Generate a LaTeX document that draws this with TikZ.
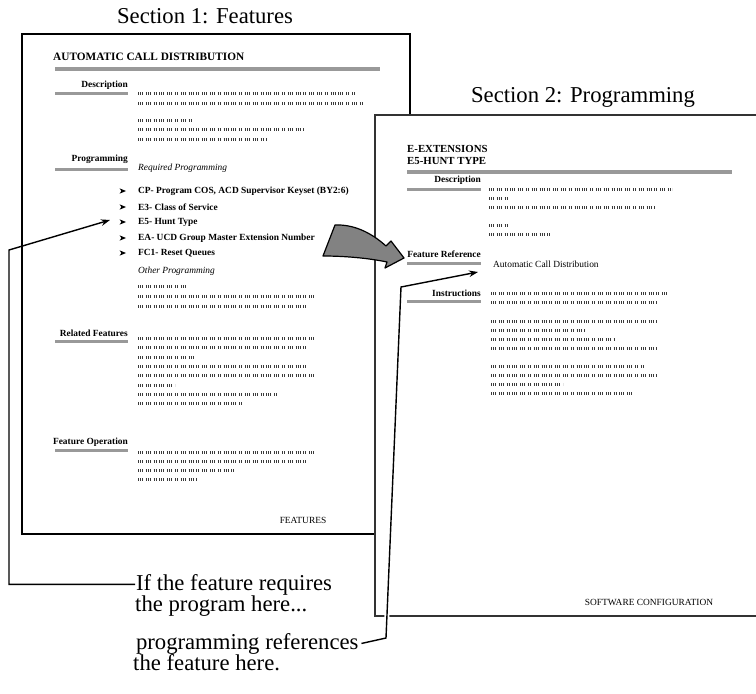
\documentclass[tikz,border=0pt]{standalone}
\usepackage{fontspec}
\setmainfont{Liberation Serif}
\usetikzlibrary{arrows.meta,calc}
\definecolor{barcol}{HTML}{999999}
\definecolor{arrowgray}{HTML}{828282}
\definecolor{tickcol}{HTML}{3A3A3A}
\begin{document}
\begin{tikzpicture}[x=1pt,y=-1pt,
  page/.style={draw=black, line width=1.1pt, fill=white},
  rpage/.style={draw=black!80, line width=1.1pt, fill=white},
  hbar/.style={draw=barcol, line width=3pt},
  tbar/.style={draw=barcol, line width=4pt},
  head/.style={anchor=east, inner sep=0pt, font=\bfseries\fontsize{9.4}{11}\selectfont},
  item/.style={anchor=west, inner sep=0pt, font=\bfseries\fontsize{9.4}{11}\selectfont},
  ital/.style={anchor=west, inner sep=0pt, font=\itshape\fontsize{9.4}{11}\selectfont},
  plain/.style={inner sep=0pt, font=\fontsize{9.4}{11}\selectfont},
  ltitle/.style={anchor=west, inner sep=0pt, align=left, font=\bfseries\fontsize{11.3}{12}\selectfont},
  rtitle/.style={anchor=west, inner sep=0pt, align=left, font=\bfseries\fontsize{10.8}{12}\selectfont},
  big/.style={inner sep=0pt, font=\fontsize{22.7}{22}\selectfont},
  greek/.style={draw=tickcol, line width=3pt, line cap=butt,
    dash pattern=on 0.8pt off 1.2pt on 0.8pt off 1.2pt on 0.8pt off 3pt on 0.8pt off 1.2pt on 0.8pt off 1.2pt on 0.8pt off 3pt on 0.8pt off 1.2pt on 0.8pt off 3pt},
  callout/.style={draw=black, line width=1.4pt, -{Stealth[length=9pt,width=6.5pt]}},
  bigarrow/.style={fill=arrowgray, draw=black, line width=1.2pt, line join=round},
  bulletarrow/.pic={\fill (0,0) -- (-6.5,-2.7) -- (-4.6,0) -- (-6.5,2.7) -- cycle;}
]
\useasboundingbox (0,0) rectangle (756,694);

% ---------- Section titles ----------
\node[big] (s1) at (205,16) {Section 1: Features};
\node[big] (s2) at (583,97) {Section 2: Programming};

% ---------- Left page ----------
\draw[page] (22,34) rectangle (410,534);
\node[ltitle] (acd) at (53,57) {AUTOMATIC CALL DISTRIBUTION};
\draw[tbar] (55,69) -- (380,69);

\node[head] (ldesc) at (128,85) {Description};
\draw[hbar] (55,93) -- (128,93);
\draw[greek] (138,93) -- (355,93);
\draw[greek] (138,103) -- (363,103);
\draw[greek] (138,120) -- (192,120);
\draw[greek] (138,129) -- (305,129);
\draw[greek] (138,139) -- (267,139);

\node[head] (lprog) at (128,159) {Programming};
\draw[hbar] (55,169) -- (128,169);
\node[ital] (reqp) at (138,168) {Required Programming};
\foreach \yy in {191,207,222,238,253} {\pic at (126,\yy) {bulletarrow};}
\node[item] (cp)  at (138,191) {CP- Program COS, ACD Supervisor Keyset (BY2:6)};
\node[item] (e3)  at (138,207) {E3- Class of Service};
\node[item] (e5)  at (138,222) {E5- Hunt Type};
\node[item] (ea)  at (138,238) {EA- UCD Group Master Extension Number};
\node[item] (fc1) at (138,253) {FC1- Reset Queues};
\node[ital] (othp) at (138,271) {Other Programming};
\draw[greek] (138,286) -- (185,286);
\draw[greek] (138,296) -- (315,296);
\draw[greek] (138,306) -- (307,306);

\node[head] (lrel) at (128,333) {Related Features};
\draw[hbar] (55,341) -- (128,341);
\draw[greek] (138,338) -- (315,338);
\draw[greek] (138,347) -- (307,347);
\draw[greek] (138,357) -- (193,357);
\draw[greek] (138,366) -- (307,366);
\draw[greek] (138,375) -- (315,375);
\draw[greek] (138,385) -- (175,385);
\draw[greek] (138,394) -- (278,394);
\draw[greek] (138,403) -- (243,403);

\node[head] (lop) at (128,442) {Feature Operation};
\draw[hbar] (55,450) -- (128,450);
\draw[greek] (138,452) -- (315,452);
\draw[greek] (138,461) -- (307,461);
\draw[greek] (138,470) -- (235,470);
\draw[greek] (138,479) -- (197,479);

\node[plain] (feat) at (303,520) {FEATURES};

% ---------- Right page ----------
\draw[rpage] (375,115) rectangle (762,616);
\node[rtitle] (ext) at (407,155) {E-EXTENSIONS\\E5-HUNT TYPE};
\draw[tbar] (407,172) -- (732,172);

\node[head] (rdesc) at (481,180) {Description};
\draw[hbar] (407,189) -- (481,189);
\draw[greek] (489,189) -- (672,189);
\draw[greek] (489,198) -- (507,198);
\draw[greek] (489,207) -- (655,207);
\draw[greek] (489,225) -- (507,225);
\draw[greek] (489,234) -- (552,234);

\node[head] (rfref) at (481,254) {Feature Reference};
\draw[hbar] (407,263) -- (481,263);
\node[plain, anchor=west] (acdref) at (493,264) {Automatic Call Distribution};

\node[head] (rins) at (481,293) {Instructions};
\draw[hbar] (407,301) -- (481,301);
\draw[greek] (491,293) -- (667,293);
\draw[greek] (491,302) -- (657,302);
\draw[greek] (491,321) -- (657,321);
\draw[greek] (491,330) -- (585,330);
\draw[greek] (491,339) -- (615,339);
\draw[greek] (491,348) -- (657,348);
\draw[greek] (491,366) -- (643,366);
\draw[greek] (491,375) -- (657,375);
\draw[greek] (491,384) -- (563,384);
\draw[greek] (491,393) -- (633,393);

\node[plain] (swc) at (649,602) {SOFTWARE CONFIGURATION};

% ---------- Big gray arrow ----------
\draw[bigarrow] (323,256) -- (335,225)
  .. controls (357,224) and (375,236) .. (386,246)
  -- (391,241) -- (404,258) -- (385,268) -- (387,262)
  .. controls (368,258) and (344,256) .. (323,256) -- cycle;

% ---------- Callout texts ----------
\node[big, anchor=base west, outer sep=1pt] (q1)  at (135,590) {If the feature requires};
\node[big, anchor=base west] (q1b) at (135,611) {the program here...};
\node[big, anchor=base west, outer sep=3pt] (q2)  at (133,649) {programming references};
\node[big, anchor=base west] (q2b) at (133,670) {the feature here.};

% ---------- Callout connectors ----------
\coordinate (bend1) at (9,250);
\coordinate (tip1) at (110,220);
\draw[callout] (q1.west) -| (bend1) -- (tip1);

\coordinate (bend2) at (386,638);
\coordinate (bend3) at (401,287);
\coordinate (tip2) at (478,272);
\draw[white, line width=5pt] (bend2) -- (bend3);
\draw[callout] (q2.east) -- (bend2) -- (bend3) -- (tip2);
\end{tikzpicture}
\end{document}
